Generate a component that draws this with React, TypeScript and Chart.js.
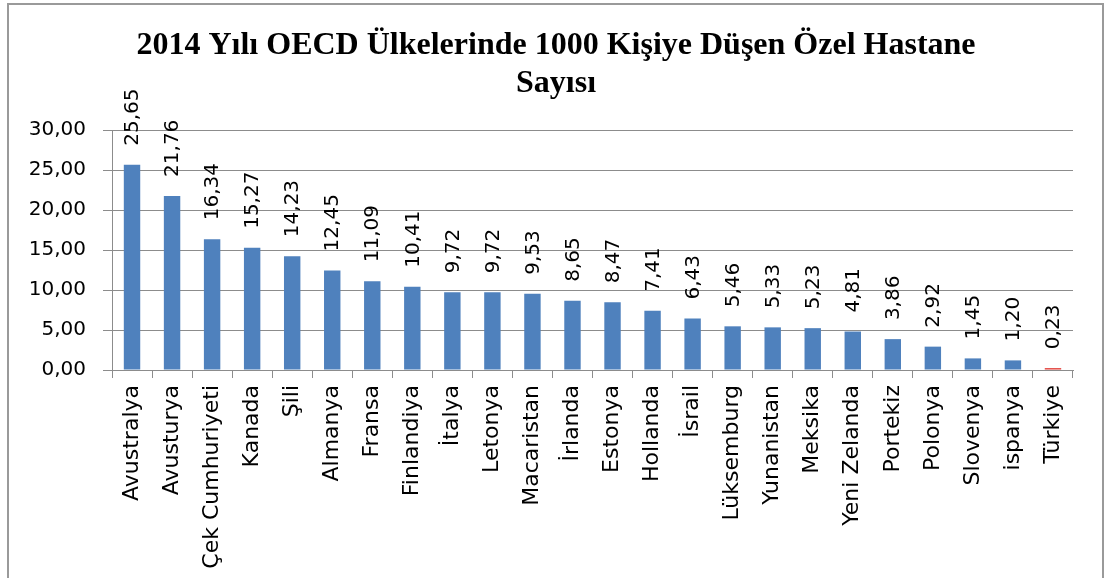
import React, { useEffect, useRef } from 'react';
import { Chart, registerables } from 'chart.js';

Chart.register(...registerables);

const titleLines = ['2014 Yılı OECD Ülkelerinde 1000 Kişiye Düşen Özel Hastane', 'Sayısı'];

const categories = [
  'Avustralya', 'Avusturya', 'Çek Cumhuriyeti', 'Kanada', 'Şili', 'Almanya', 'Fransa',
  'Finlandiya', 'İtalya', 'Letonya', 'Macaristan', 'İrlanda', 'Estonya', 'Hollanda',
  'İsrail', 'Lüksemburg', 'Yunanistan', 'Meksika', 'Yeni Zelanda', 'Portekiz', 'Polonya',
  'Slovenya', 'ispanya', 'Türkiye',
];

const values = [
  25.65, 21.76, 16.34, 15.27, 14.23, 12.45, 11.09, 10.41, 9.72, 9.72, 9.53, 8.65, 8.47,
  7.41, 6.43, 5.46, 5.33, 5.23, 4.81, 3.86, 2.92, 1.45, 1.2, 0.23,
];

const highlighted = 'Türkiye';

const fmt = (v: number) => v.toFixed(2).replace('.', ',');

const FONT = '"DejaVu Sans", sans-serif';
const GRID = '#8c8c8c';

const decorPlugin = {
  id: 'decor',
  beforeDraw(chart: any) {
    const ctx = chart.ctx;
    ctx.save();
    ctx.strokeStyle = '#9a9a9a';
    ctx.lineWidth = 2;
    ctx.strokeRect(8, 4, 1095, 600);
    ctx.fillStyle = '#000';
    ctx.font = 'bold 32px "Liberation Serif", "Times New Roman", serif';
    ctx.textAlign = 'center';
    ctx.textBaseline = 'alphabetic';
    ctx.fillText(titleLines[0], 556, 54);
    ctx.fillText(titleLines[1], 556, 92);
    ctx.restore();
  },
  afterDatasetsDraw(chart: any) {
    const ctx = chart.ctx;
    const meta = chart.getDatasetMeta(0);
    const data = chart.data.datasets[0].data as number[];
    ctx.save();
    ctx.fillStyle = '#000';
    ctx.font = '20px ' + FONT;
    ctx.textAlign = 'left';
    ctx.textBaseline = 'middle';
    meta.data.forEach((bar: any, i: number) => {
      ctx.save();
      ctx.translate(bar.x, bar.y - 19);
      ctx.rotate(-Math.PI / 2);
      ctx.fillText(fmt(data[i]), 0, 1);
      ctx.restore();
    });
    ctx.restore();
  },
};

export default function App() {
  const ref = useRef<HTMLCanvasElement>(null);

  useEffect(() => {
    if (!ref.current) return;
    const chart = new Chart(ref.current, {
      type: 'bar',
      data: {
        labels: categories,
        datasets: [
          {
            data: values,
            backgroundColor: categories.map((c) => (c === highlighted ? '#E0352F' : '#4F81BD')),
            borderWidth: 0,
            categoryPercentage: 1,
            barPercentage: 0.41,
          },
        ],
      },
      options: {
        animation: false,
        responsive: false,
        devicePixelRatio: 1,
        layout: { padding: { top: 130, right: 32, left: 0, bottom: 0 } },
        plugins: {
          legend: { display: false },
          title: { display: false },
          tooltip: { enabled: false },
        },
        scales: {
          x: {
            grid: { offset: true, drawOnChartArea: false, drawTicks: true, tickLength: 8, color: GRID },
            border: { display: true, color: GRID, width: 1 },
            ticks: {
              autoSkip: false,
              minRotation: 90,
              maxRotation: 90,
              padding: 7,
              color: '#000',
              font: { family: FONT, size: 22 },
            },
            afterFit(scale: any) {
              scale.height = 208;
            },
          },
          y: {
            min: 0,
            max: 30,
            ticks: {
              stepSize: 5,
              padding: 17,
              color: '#000',
              font: { family: FONT, size: 20 },
              callback: (v: any) => fmt(Number(v)),
            },
            grid: { color: GRID, tickLength: 9, lineWidth: 1 },
            border: { display: true, color: GRID, width: 1 },
            afterFit(scale: any) {
              scale.width = 112;
            },
          },
        },
      },
      plugins: [decorPlugin],
    });
    return () => chart.destroy();
  }, []);

  return (
    <div style={{ position: 'absolute', left: 0, top: 0, width: 1105, height: 578, background: '#fff' }}>
      <canvas ref={ref} width={1105} height={578} style={{ display: 'block' }} />
    </div>
  );
}
